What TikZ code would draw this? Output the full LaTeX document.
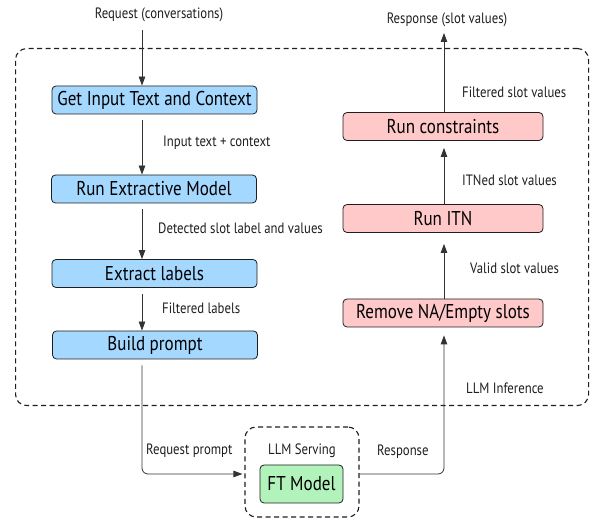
\documentclass[tikz,border=0pt]{standalone}
\usepackage{fontspec}
\setmainfont{PT Sans}[FakeStretch=0.85]
\usetikzlibrary{arrows.meta}
\definecolor{bluef}{HTML}{A5D8FF}
\definecolor{pinkf}{HTML}{FFC9C9}
\definecolor{greenf}{HTML}{B2F2BB}
\definecolor{strk}{HTML}{1E1E1E}
\definecolor{arrc}{HTML}{333333}
\tikzset{
  box/.style={draw=strk, line width=0.8pt, rounded corners=4pt, minimum height=28pt, inner sep=0pt, font=\fontsize{20}{22}\selectfont},
  lbox/.style={box, fill=bluef, minimum width=205pt},
  rbox/.style={box, fill=pinkf, minimum width=200pt},
  gbox/.style={box, fill=greenf, minimum width=83pt, minimum height=38pt},
  dbox/.style={draw=strk, line width=1.1pt, dash pattern=on 5pt off 3.5pt, rounded corners=11pt},
  lbl/.style={font=\fontsize{15}{17}\selectfont, inner sep=0pt, text=strk},
  arr/.style={draw=arrc, line width=0.8pt, -{Triangle[length=9pt,width=6.5pt]}},
}
\begin{document}
\begin{tikzpicture}[x=1pt,y=-1pt]
\useasboundingbox (0,0) rectangle (590,518);
% big dashed container
\node[dbox, minimum width=573pt, minimum height=357pt, anchor=north west] (inf) at (15,48) {};
\node[lbl, anchor=west] (infl) at (466,388) {LLM Inference};
% left chain
\node[lbox] (get) at (154.5,100) {Get Input Text and Context};
\node[lbox] (ext) at (154,189) {Run Extractive Model};
\node[lbox] (lab) at (154.5,273.5) {Extract labels};
\node[lbox] (bld) at (155,345) {Build prompt};
% right chain
\node[rbox] (con) at (443,126.5) {Run constraints};
\node[rbox] (itn) at (443,218.5) {Run ITN};
\node[rbox] (rem) at (443,313) {Remove NA/Empty slots};
% serving
\node[dbox, minimum width=114pt, minimum height=90pt] (srv) at (302,472) {};
\node[lbl] (srvl) at (302,451) {LLM Serving};
\node[gbox] (ft) at (301.5,484) {FT Model};
% external labels
\node[lbl] (req) at (159,15) {Request (conversations)};
\node[lbl] (resp) at (447,20) {Response (slot values)};
\coordinate (reqend) at (142,30);
\coordinate (respend) at (444,33);
% left arrows
\draw[arr] (reqend) -- (reqend |- get.north);
\draw[arr, shorten <=6pt] (get.south -| reqend) -- (ext.north -| reqend);
\draw[arr, shorten <=6pt] (ext.south -| reqend) -- (lab.north -| reqend);
\draw[arr, shorten <=6pt] (lab.south -| reqend) -- (bld.north -| reqend);
\node[lbl, anchor=west] at (163,143) {Input text + context};
\node[lbl, anchor=west] at (158,228) {Detected slot label and values};
\node[lbl, anchor=west] at (162,308) {Filtered labels};
% to serving
\draw[arr, rounded corners=6pt, shorten <=6pt, shorten >=2pt] (bld.south -| reqend) -- (142,474) -- (srv.west |- 0,474);
\node[lbl, anchor=west] at (146,451) {Request prompt};
% response
\draw[arr, rounded corners=6pt, shorten >=8pt] (srv.east |- 0,474) -- (444,474) -- (rem.south -| respend);
\node[lbl, anchor=west] at (377,452) {Response};
% right arrows
\draw[arr, shorten >=11pt] (rem.north -| respend) -- (itn.south -| respend);
\draw[arr, shorten >=7pt] (itn.north -| respend) -- (con.south -| respend);
\draw[arr] (con.north -| respend) -- (respend);
\node[lbl, anchor=west] at (470,268) {Valid slot values};
\node[lbl, anchor=west] at (462,180) {ITNed slot values};
\node[lbl, anchor=west] at (462,92) {Filtered slot values};
\end{tikzpicture}
\end{document}
